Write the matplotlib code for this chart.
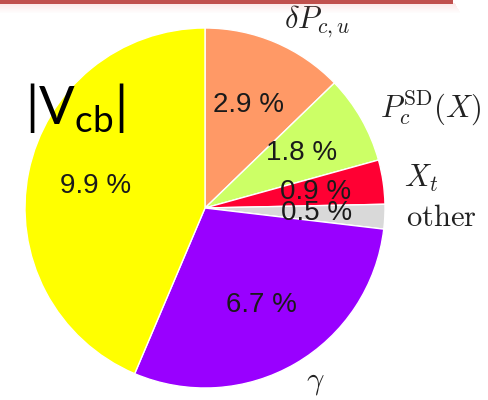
import matplotlib
matplotlib.use("Agg")
import matplotlib.pyplot as plt
from matplotlib.patches import Rectangle
import numpy as np

plt.rcParams['mathtext.fontset'] = 'cm'
plt.rcParams['mathtext.rm'] = 'Lato'

# uncertainty budget, clockwise from the top
labels = [r'$\delta P_{c,u}$', r'$P_c^{\rm SD}(X)$', r'$X_t$', r'$\mathrm{other}$',
          r'$\gamma$', '']
values = [2.9, 1.8, 0.9, 0.5, 6.7, 9.9]
pct_text = ['2.9 %', '1.8 %', '0.9 %', '0.5 %', '6.7 %', '9.9 %']
colors = ['#FF9966', '#CCFF66', '#FF0033', '#D9D9D9', '#9900FF', '#FFFF00']

W, H = 488, 400
fig = plt.figure(figsize=(W / 100, H / 100), dpi=100)

# header bar with a soft pink shadow
for i in range(10):
    a = 0.18 * (1 - i / 10)
    fig.patches.append(Rectangle((0, 1 - (3 + i + 1) / H), (455 + i * 0.6) / W, 1 / H,
                                 transform=fig.transFigure, color='#F08080',
                                 alpha=a, lw=0))
fig.patches.append(Rectangle((0, 1 - 3.5 / H), 453 / W, 3.5 / H,
                             transform=fig.transFigure, color='#C0504D', lw=0))

cx, cy, r = 205, 208, 180
ax = fig.add_axes([(cx - r) / W, (H - cy - r) / H, 2 * r / W, 2 * r / H])

wedges, texts = ax.pie(values, labels=labels, colors=colors, startangle=90,
                       counterclock=False, radius=1, labeldistance=1.12,
                       wedgeprops=dict(edgecolor='white', linewidth=1),
                       textprops=dict(fontsize=22, color='#222222'))
ax.set_xlim(-1, 1)
ax.set_ylim(-1, 1)
ax.axis('off')

# percentages inside the slices
total = sum(values)
ang = 90.0
for v, s in zip(values, pct_text):
    mid = np.deg2rad(ang - v / total * 180)
    ang -= v / total * 360
    d = 0.62
    ax.text(d * np.cos(mid), d * np.sin(mid), s, ha='center', va='center',
            fontsize=20, family='Liberation Sans', color='#1a1a1a')

fig.text(25 / W, 1 - 108 / H, r'$|\mathrm{V}_{\mathrm{cb}}|$', fontsize=38,
         math_fontfamily='custom', va='center', ha='left', color='black')

fig.savefig('out.png', dpi=100)
